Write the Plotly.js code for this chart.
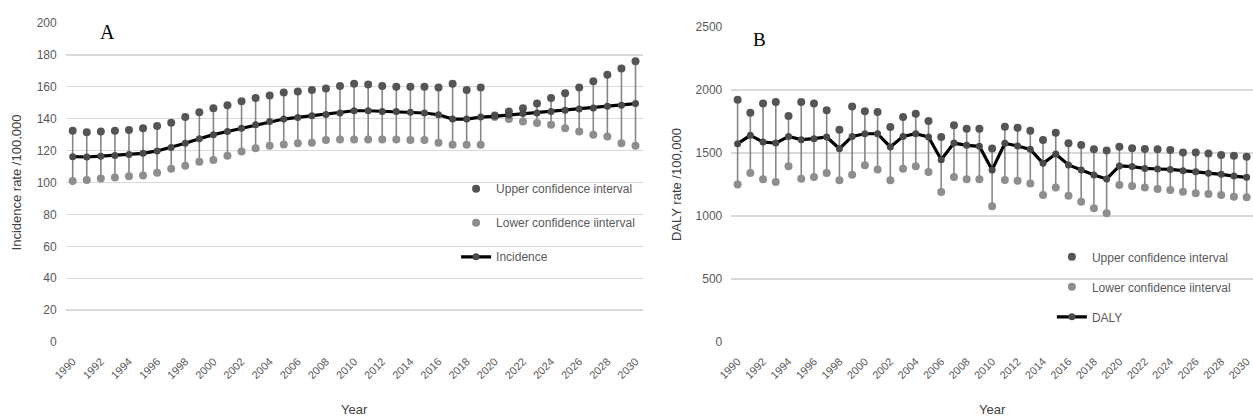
<!DOCTYPE html>
<html>
<head>
<meta charset="utf-8">
<script src="https://cdn.plot.ly/plotly-3.0.1.min.js"></script>
<style>
html,body{margin:0;padding:0;background:#fff;}
#chart{width:1253px;height:420px;}
</style>
</head>
<body>
<div id="chart"></div>
<script>
// ---- Data ----
const years = [1990,1991,1992,1993,1994,1995,1996,1997,1998,1999,2000,2001,2002,2003,2004,2005,2006,2007,2008,2009,2010,2011,2012,2013,2014,2015,2016,2017,2018,2019,2020,2021,2022,2023,2024,2025,2026,2027,2028,2029,2030];
const tickYears = [1990,1992,1994,1996,1998,2000,2002,2004,2006,2008,2010,2012,2014,2016,2018,2020,2022,2024,2026,2028,2030];
const tickLabels = ["1990","1992","1994","1996","1998","2000","2002","2004","2006","2008","2010","2012","2014","2016","2018","2020","2022","2024","2026","2028","2030"];

// Panel A: incidence rate /100,000
const incUpper = [132.5,131.5,132,132.5,133,134,135.5,137.5,141,144,146.5,148.5,151,153,154.5,156.5,157,158,159,160.5,162,161.5,160.5,160,160,160,159.5,162,158,159.5,142,144.5,146.5,149.5,153,156,159.5,163.5,167.5,171.5,176];
const incidence = [116.2,116,116.5,117,117.5,118.3,119.8,122,124.6,127.4,130,132,134,136.2,138.3,139.8,140.8,141.9,142.7,143.6,145,145,144.6,144.6,144,143.6,142.5,139.8,139.8,141,141.5,142.3,143.2,143.6,144.6,145.3,146.1,146.7,147.8,148.4,149.5];
const incLower = [101,101.5,102.5,103.2,104,104.4,106.1,108.6,110.5,113,114.1,116.8,119.4,121.5,123,123.8,124.6,125,126.7,127,127,127,127,127,126.7,126.7,125,123.6,123.6,123.6,141,139.8,138.3,137.3,136.2,134.1,132,129.9,128.8,124.6,123];

// Panel B: DALY rate /100,000
const dalyUpper = [1923,1820,1892,1905,1794,1905,1892,1839,1685,1870,1831,1825,1706,1786,1812,1754,1627,1720,1693,1693,1536,1709,1701,1677,1603,1661,1577,1564,1529,1519,1550,1537,1532,1529,1524,1505,1505,1497,1484,1479,1471];
const daly = [1574,1640,1587,1579,1632,1606,1614,1627,1534,1632,1653,1653,1548,1632,1653,1627,1447,1579,1561,1553,1366,1577,1556,1529,1418,1492,1405,1365,1325,1294,1397,1392,1378,1373,1370,1360,1352,1339,1331,1317,1307];
const dalyLower = [1251,1341,1291,1270,1394,1296,1309,1341,1283,1328,1402,1370,1283,1376,1394,1349,1190,1309,1291,1291,1078,1286,1280,1259,1167,1227,1161,1114,1061,1021,1246,1238,1227,1214,1206,1193,1180,1175,1167,1153,1148];

// ---- Styles ----
const upColor = '#555555', loColor = '#8e8e8e', meanMarker = '#4a4a4a', barColor = '#868686';
const xTickFont = {family: 'Liberation Sans, Arial, sans-serif', size: 11, color: '#595959'};
const yTickFont = {family: 'Liberation Sans, Arial, sans-serif', size: 12, color: '#595959'};
const titleFont = {family: 'Liberation Sans, Arial, sans-serif', size: 13, color: '#404040'};
const legFont = {family: 'Liberation Sans, Arial, sans-serif', size: 12, color: '#595959'};

function panel(up, mid, lo, xa, ya, leg, name) {
  const diffUp = up.map((v, i) => v - lo[i]);
  return [
    {x: years, y: lo, xaxis: xa, yaxis: ya, type: 'scatter', mode: 'markers',
     marker: {size: 1, color: barColor}, showlegend: false, hoverinfo: 'skip',
     error_y: {type: 'data', symmetric: false, array: diffUp, arrayminus: lo.map(() => 0), width: 0, thickness: 1.6, color: barColor}},
    {x: years, y: up, xaxis: xa, yaxis: ya, type: 'scatter', mode: 'markers', name: 'Upper confidence interval',
     marker: {size: 8, color: upColor}, legend: leg, legendgroup: name + 'u'},
    {x: years, y: lo, xaxis: xa, yaxis: ya, type: 'scatter', mode: 'markers', name: 'Lower confidence iinterval',
     marker: {size: 8, color: loColor}, legend: leg, legendgroup: name + 'l'},
    {x: years, y: mid, xaxis: xa, yaxis: ya, type: 'scatter', mode: 'lines+markers', name: name,
     line: {color: '#000000', width: 3.2}, marker: {size: 7, color: meanMarker}, legend: leg, legendgroup: name + 'm'}
  ];
}

const data = [].concat(
  panel(incUpper, incidence, incLower, 'x', 'y', 'legend', 'Incidence'),
  panel(dalyUpper, daly, dalyLower, 'x2', 'y2', 'legend2', 'DALY')
);

const xBase = {
  tickmode: 'array', tickvals: tickYears, ticktext: tickLabels, tickangle: -45,
  tickfont: xTickFont, showgrid: false, zeroline: false, showline: false, ticks: '',
  ticklabelstandoff: 10,
  title: {text: 'Year', font: titleFont, standoff: 24}
};
const yBase = {
  showgrid: true, gridcolor: '#d9d9d9', gridwidth: 1.3, zeroline: false, showline: false, ticks: '',
  tickfont: yTickFont, ticklabelstandoff: 8
};

const layout = {
  width: 1253, height: 420,
  margin: {l: 0, r: 0, t: 0, b: 0},
  paper_bgcolor: '#ffffff', plot_bgcolor: '#ffffff',
  showlegend: true,
  xaxis: Object.assign({}, xBase, {domain: [0.0524, 0.5128], range: [1989.5, 2030.5], anchor: 'y'}),
  yaxis: Object.assign({}, yBase, {domain: [0.1857, 0.9452], range: [0, 200], dtick: 20, anchor: 'x',
    title: {text: 'Incidence rate /100,000', font: titleFont, standoff: 12}}),
  xaxis2: Object.assign({}, xBase, {domain: [0.5836, 1.0], range: [1989.5, 2030.5], anchor: 'y2'}),
  yaxis2: Object.assign({}, yBase, {domain: [0.1857, 0.9357], range: [0, 2500], dtick: 500, anchor: 'x2',
    title: {text: 'DALY rate /100,000', font: titleFont, standoff: 10}}),
  legend: {x: 0.364, y: 0.585, xanchor: 'left', yanchor: 'top', bgcolor: 'rgba(0,0,0,0)',
    font: legFont, traceorder: 'grouped', tracegroupgap: 15},
  legend2: {x: 0.8395, y: 0.423, xanchor: 'left', yanchor: 'top', bgcolor: 'rgba(0,0,0,0)',
    font: legFont, traceorder: 'grouped', tracegroupgap: 11},
  annotations: [
    {text: 'A', xref: 'paper', yref: 'paper', x: 98/1253, y: 1 - 19/420, showarrow: false,
     font: {family: 'Liberation Serif, DejaVu Serif, serif', size: 20, color: '#000'}},
    {text: 'B', xref: 'paper', yref: 'paper', x: 760/1253, y: 1 - 27/420, showarrow: false,
     font: {family: 'Liberation Serif, DejaVu Serif, serif', size: 19, color: '#000'}}
  ]
};

Plotly.newPlot('chart', data, layout, {displayModeBar: false, staticPlot: true});
</script>
</body>
</html>
